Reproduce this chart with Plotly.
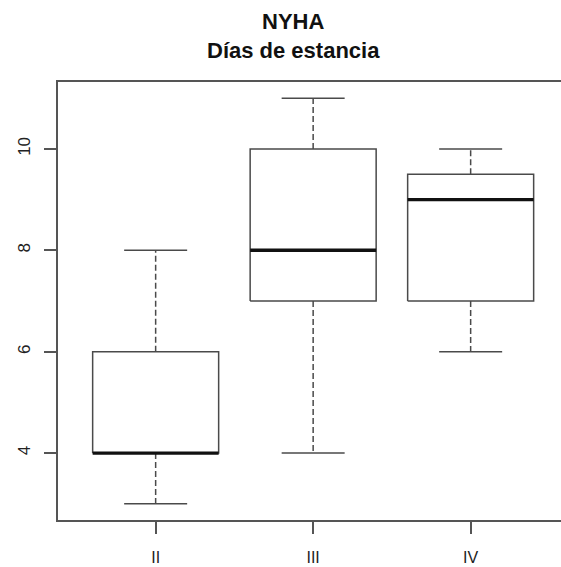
import plotly.graph_objects as go

categories = ["II", "III", "IV"]
lower_whisker = [3, 4, 6]
q1 = [4, 7, 7]
median = [4, 8, 9]
q3 = [6, 10, 9.5]
upper_whisker = [8, 11, 10]
y_ticks = [4, 6, 8, 10]

BOX_HALF = 0.4
CAP_HALF = 0.2
LINE = "#4a4a4a"
AXIS = "#555555"

box_x, box_y = [], []
med_x, med_y = [], []
wh_x, wh_y = [], []
cap_x, cap_y = [], []
for i, c in enumerate(categories):
    p = i + 1
    box_x += [p - BOX_HALF, p + BOX_HALF, p + BOX_HALF, p - BOX_HALF, p - BOX_HALF, None]
    box_y += [q1[i], q1[i], q3[i], q3[i], q1[i], None]
    med_x += [p - BOX_HALF, p + BOX_HALF, None]
    med_y += [median[i], median[i], None]
    wh_x += [p, p, None, p, p, None]
    wh_y += [q1[i], lower_whisker[i], None, q3[i], upper_whisker[i], None]
    cap_x += [p - CAP_HALF, p + CAP_HALF, None, p - CAP_HALF, p + CAP_HALF, None]
    cap_y += [lower_whisker[i], lower_whisker[i], None, upper_whisker[i], upper_whisker[i], None]

fig = go.Figure()
fig.add_trace(go.Scatter(x=wh_x, y=wh_y, mode="lines",
                         line=dict(color=LINE, width=1.5, dash="6px,3px"), hoverinfo="skip"))
fig.add_trace(go.Scatter(x=cap_x, y=cap_y, mode="lines",
                         line=dict(color=LINE, width=1.5), hoverinfo="skip"))
fig.add_trace(go.Scatter(x=box_x, y=box_y, mode="lines",
                         line=dict(color=LINE, width=1.5), hoverinfo="skip"))
fig.add_trace(go.Scatter(x=med_x, y=med_y, mode="lines",
                         line=dict(color="#111111", width=3.4), hoverinfo="skip"))

W, H = 561, 567
PLOT_L, PLOT_T, PLOT_B = 58, 82, 520          # pixel edges of plot area
L, T, B = PLOT_L, PLOT_T, H - PLOT_B
plot_h = PLOT_B - PLOT_T
plot_w = W - PLOT_L
PX_PER_UNIT = 157.5
TITLE_X = (293 - PLOT_L) / plot_w

fig.update_layout(
    width=W, height=H,
    margin=dict(l=L, r=0, t=T, b=B, pad=0),
    paper_bgcolor="white", plot_bgcolor="white",
    showlegend=False,
    font=dict(family="Liberation Sans, Arial, sans-serif", color="#222222"),
    xaxis=dict(
        range=[0.38, 0.38 + plot_w / PX_PER_UNIT],
        tickmode="array", tickvals=[1, 2, 3], ticktext=categories,
        ticks="outside", ticklen=12, tickwidth=1.5, tickcolor=AXIS,
        showline=True, linecolor=AXIS, linewidth=1.5, mirror=True,
        showgrid=False, zeroline=False, ticklabelstandoff=10,
        tickfont=dict(size=16, color="#222222"),
    ),
    yaxis=dict(
        range=[2.68, 11.32],
        tickmode="array", tickvals=y_ticks, ticktext=[str(v) for v in y_ticks],
        ticks="outside", ticklen=12, tickwidth=1.5, tickcolor=AXIS,
        showline=True, linecolor=AXIS, linewidth=1.5,
        showgrid=False, zeroline=False, tickangle=-90, ticklabelstandoff=7,
        tickfont=dict(size=17, color="#222222"),
    ),
    annotations=[
        dict(text="<b>NYHA</b>", xref="paper", yref="paper",
             x=TITLE_X, y=1 + (PLOT_T - 21) / plot_h,
             xanchor="center", yanchor="middle", showarrow=False,
             font=dict(size=22, color="#111111")),
        dict(text="<b>Días de estancia</b>", xref="paper", yref="paper",
             x=TITLE_X, y=1 + (PLOT_T - 50) / plot_h,
             xanchor="center", yanchor="middle", showarrow=False,
             font=dict(size=22, color="#111111")),
    ],
)

fig.write_html(
    "out.html",
    config={"displayModeBar": False},
    post_script="document.body.style.margin='0';document.body.style.overflow='hidden';",
)
